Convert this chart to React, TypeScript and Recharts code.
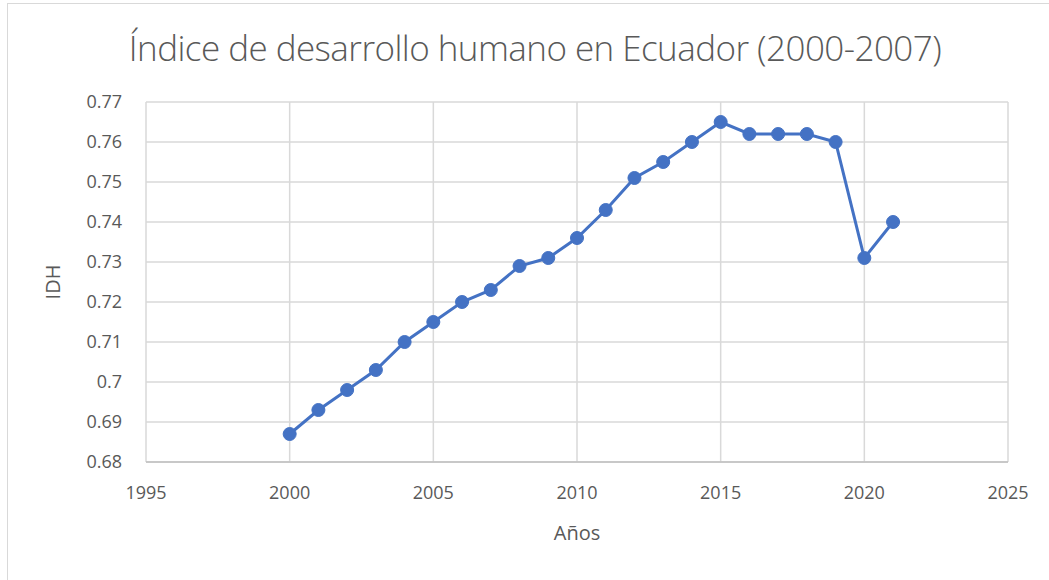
import { LineChart, Line, XAxis, YAxis, CartesianGrid, Label } from 'recharts';

const years = [2000, 2001, 2002, 2003, 2004, 2005, 2006, 2007, 2008, 2009, 2010, 2011, 2012, 2013, 2014, 2015, 2016, 2017, 2018, 2019, 2020, 2021];
const idh = [0.687, 0.693, 0.698, 0.703, 0.710, 0.715, 0.720, 0.723, 0.729, 0.731, 0.736, 0.743, 0.751, 0.755, 0.760, 0.765, 0.762, 0.762, 0.762, 0.760, 0.731, 0.740];
const xTicks = [1995, 2000, 2005, 2010, 2015, 2020, 2025];
const yTicks = [0.68, 0.69, 0.7, 0.71, 0.72, 0.73, 0.74, 0.75, 0.76, 0.77];

const data = years.map((y, i) => ({ year: y, idh: idh[i] }));

const font = '"Open Sans", "Noto Sans", sans-serif';
const tickStyle = { fill: '#595959', fontSize: 18, fontFamily: font };

export default function App() {
    return (
        <div style={{ position: 'absolute', left: 0, top: 0, width: 1049, height: 580, background: '#fff', overflow: 'hidden', fontFamily: font }}>
            <div style={{ position: 'absolute', left: 7, top: 3, width: 1060, height: 600, border: '1px solid #d9d9d9', boxSizing: 'border-box' }} />
            <div style={{ position: 'absolute', left: 0, top: 24, width: 1070, textAlign: 'center', fontSize: 35, fontWeight: 300, color: '#595959', letterSpacing: -0.55 }}>
                Índice de desarrollo humano en Ecuador (2000-2007)
            </div>
            <LineChart width={1049} height={580} data={data} margin={{ top: 102, right: 41, bottom: 78, left: 86 }} style={{ position: 'absolute', left: 0, top: 0 }}>
                <CartesianGrid stroke="#d9d9d9" strokeWidth={1.5} />
                <XAxis
                    dataKey="year"
                    type="number"
                    domain={[1995, 2025]}
                    ticks={xTicks}
                    interval={0}
                    height={40}
                    axisLine={{ stroke: '#bfbfbf', strokeWidth: 1.5 }}
                    tickLine={false}
                    tick={tickStyle}
                    tickMargin={18}
                >
                    <Label
                        content={({ viewBox }: any) => (
                            <text x={viewBox.x + viewBox.width / 2} y={532} textAnchor="middle" dominantBaseline="central" fill="#595959" fontSize={20} fontFamily={font}>Años</text>
                        )}
                    />
                </XAxis>
                <YAxis
                    type="number"
                    domain={[0.68, 0.77]}
                    ticks={yTicks}
                    interval={0}
                    width={60}
                    axisLine={false}
                    tickLine={false}
                    tick={tickStyle}
                    tickMargin={18}
                    tickFormatter={(v: number) => String(Number(v.toFixed(2)))}
                >
                    <Label
                        content={() => (
                            <text x={52} y={282} transform="rotate(-90, 52, 282)" textAnchor="middle" dominantBaseline="central" fill="#595959" fontSize={20} fontFamily={font}>IDH</text>
                        )}
                    />
                </YAxis>
                <Line
                    dataKey="idh"
                    stroke="#4472c4"
                    strokeWidth={3}
                    dot={{ r: 6.5, fill: '#4472c4', stroke: '#4472c4', strokeWidth: 1 }}
                    isAnimationActive={false}
                />
            </LineChart>
        </div>
    );
}
